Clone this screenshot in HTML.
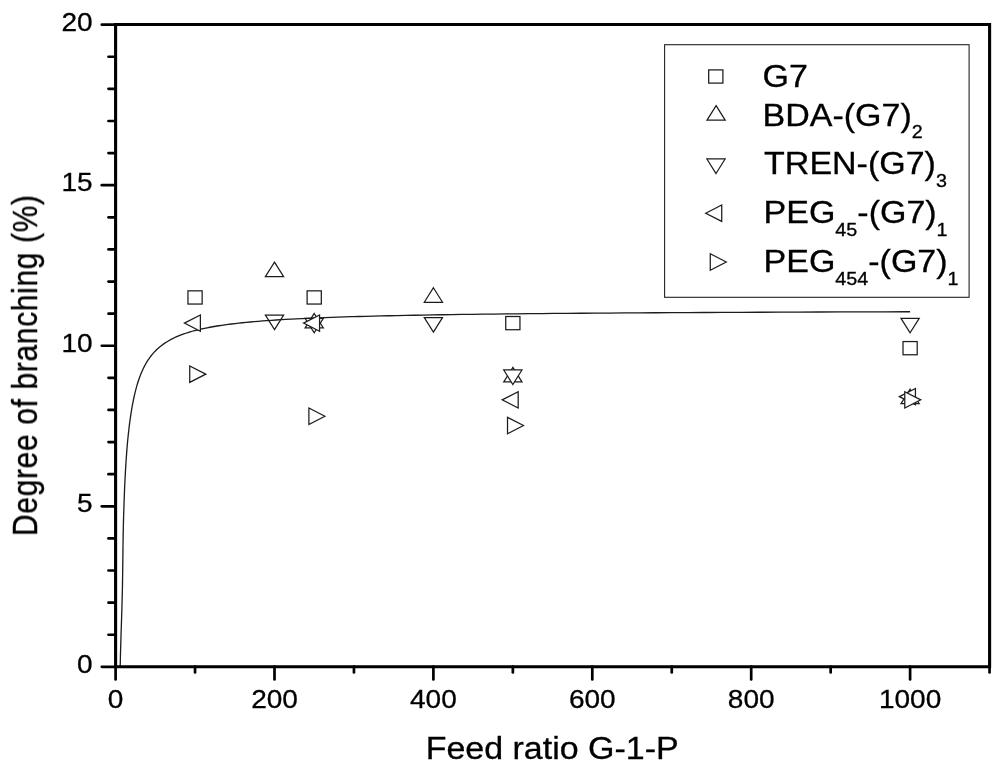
<!DOCTYPE html>
<html lang="en"><head><meta charset="utf-8"><title>Degree of branching vs feed ratio G-1-P</title>
<style>html,body{margin:0;padding:0;background:#fff}body{width:1000px;height:768px;overflow:hidden}svg{display:block}text{font-family:"Liberation Sans",Arial,Helvetica,sans-serif;fill:#000;stroke:#000;stroke-width:0.3px}</style></head><body>
<svg width="1000" height="768" viewBox="0 0 1000 768">
<defs><filter id="soft" x="0" y="0" width="1000" height="768" filterUnits="userSpaceOnUse"><feGaussianBlur stdDeviation="0.35"/></filter></defs>
<rect width="1000" height="768" fill="#fff"/>
<g filter="url(#soft)">
<g fill="#fff" stroke="#1c1c1c" stroke-width="1.25" stroke-linejoin="miter">
<rect x="187.95" y="290.84" width="14.20" height="13.20"/>
<rect x="307.12" y="290.84" width="14.20" height="13.20"/>
<rect x="505.75" y="316.52" width="14.20" height="13.20"/>
<rect x="903.00" y="341.57" width="14.20" height="13.20"/>
<path d="M274.50 262.08L283.60 276.58L265.40 276.58Z"/>
<path d="M314.23 313.46L323.33 327.96L305.12 327.96Z"/>
<path d="M433.40 287.77L442.50 302.27L424.30 302.27Z"/>
<path d="M512.85 367.40L521.95 381.90L503.75 381.90Z"/>
<path d="M910.10 389.24L919.20 403.74L901.00 403.74Z"/>
<path d="M274.50 329.58L283.60 315.08L265.40 315.08Z"/>
<path d="M314.23 332.79L323.33 318.29L305.12 318.29Z"/>
<path d="M433.40 332.15L442.50 317.65L424.30 317.65Z"/>
<path d="M512.85 384.49L521.95 369.99L503.75 369.99Z"/>
<path d="M910.10 332.79L919.20 318.29L901.00 318.29Z"/>
<polyline points="120.18,666.70 120.38,657.80 120.62,649.08 120.87,640.55 121.13,632.20 121.40,624.03 121.66,616.03 121.90,608.21 122.12,600.56 122.30,593.08 122.46,585.77 122.58,578.62 122.69,571.64 122.77,564.81 122.85,558.15 122.93,551.63 123.01,545.27 123.11,539.06 123.21,533.00 123.34,527.08 123.48,521.30 123.64,515.66 123.81,510.16 123.99,504.79 124.17,499.55 124.35,494.44 124.56,489.46 124.77,484.60 125.00,479.87 125.23,475.25 125.48,470.75 125.74,466.36 126.01,462.08 126.29,457.92 126.58,453.85 126.88,449.90 127.19,446.04 127.52,442.29 127.87,438.63 128.24,435.07 128.62,431.60 129.01,428.22 129.41,424.94 129.82,421.73 130.25,418.62 130.69,415.58 131.14,412.63 131.61,409.75 132.09,406.95 132.58,404.23 133.09,401.58 133.62,399.00 134.16,396.49 134.71,394.05 135.29,391.68 135.88,389.37 136.49,387.12 137.11,384.93 137.76,382.81 138.42,380.74 139.11,378.73 139.81,376.77 140.54,374.87 141.29,373.02 142.06,371.22 142.85,369.47 143.67,367.77 144.51,366.12 145.38,364.51 146.27,362.95 147.19,361.43 148.14,359.95 149.12,358.52 150.12,357.12 151.16,355.77 152.23,354.45 153.32,353.17 154.46,351.92 155.62,350.71 156.82,349.53 158.06,348.39 159.33,347.28 160.65,346.20 162.00,345.15 163.39,344.13 164.82,343.14 166.30,342.18 167.82,341.24 169.39,340.34 171.00,339.45 172.66,338.60 174.37,337.76 176.14,336.95 177.95,336.17 179.82,335.40 181.75,334.66 183.74,333.94 185.78,333.24 187.88,332.56 190.05,331.90 192.29,331.25 194.59,330.63 196.96,330.02 199.40,329.44 201.91,328.86 204.50,328.31 207.17,327.77 209.92,327.25 212.74,326.74 215.66,326.24 218.66,325.76 221.75,325.30 224.94,324.84 228.22,324.40 231.60,323.98 235.08,323.56 238.66,323.16 242.35,322.77 246.15,322.39 250.07,322.02 254.11,321.66 258.26,321.31 262.54,320.97 266.95,320.65 271.49,320.33 276.17,320.02 280.98,319.72 285.94,319.42 291.05,319.14 296.32,318.86 301.74,318.60 307.32,318.34 313.08,318.09 319.00,317.84 325.10,317.60 331.39,317.37 337.86,317.15 344.53,316.93 351.40,316.72 358.47,316.51 365.76,316.31 373.26,316.12 380.99,315.93 388.95,315.75 397.15,315.57 405.60,315.40 414.30,315.23 423.26,315.07 432.49,314.91 442.00,314.76 451.79,314.61 461.87,314.47 472.26,314.33 482.96,314.19 493.98,314.06 505.33,313.93 517.03,313.81 529.07,313.69 541.47,313.57 554.25,313.45 567.41,313.34 580.96,313.24 594.92,313.13 609.30,313.03 624.11,312.93 639.37,312.84 655.08,312.74 671.27,312.65 687.94,312.57 705.11,312.48 722.79,312.40 741.01,312.32 759.77,312.24 779.10,312.17 799.00,312.09 819.50,312.02 840.62,311.95 862.37,311.89 884.77,311.82 907.85,311.76 910.10,311.75" fill="none" stroke="#1a1a1a" stroke-width="1.3" stroke-linejoin="round"/>
<path d="M184.38 323.12L200.38 314.92L200.38 331.32Z"/>
<path d="M303.56 323.12L319.56 314.92L319.56 331.32Z"/>
<path d="M502.18 399.87L518.18 391.67L518.18 408.07Z"/>
<path d="M899.43 396.65L915.43 388.45L915.43 404.85Z"/>
<path d="M205.72 374.18L189.72 365.98L189.72 382.38Z"/>
<path d="M324.89 416.24L308.89 408.04L308.89 424.44Z"/>
<path d="M523.52 425.55L507.52 417.35L507.52 433.75Z"/>
<path d="M920.77 399.87L904.77 391.67L904.77 408.07Z"/>
</g>
<g stroke="#000" stroke-width="3.1" fill="none" stroke-linecap="butt">
<path d="M115.60 24.50H989.60V666.70H115.60Z" stroke-linejoin="miter"/>
<path stroke-linecap="round" stroke-width="2.7" d="M101.80 666.85H115.60"/>
<path stroke-linecap="round" stroke-width="2.7" d="M108.50 634.74H115.60"/>
<path stroke-linecap="round" stroke-width="2.7" d="M108.50 602.63H115.60"/>
<path stroke-linecap="round" stroke-width="2.7" d="M108.50 570.52H115.60"/>
<path stroke-linecap="round" stroke-width="2.7" d="M108.50 538.41H115.60"/>
<path stroke-linecap="round" stroke-width="2.7" d="M101.80 506.30H115.60"/>
<path stroke-linecap="round" stroke-width="2.7" d="M108.50 474.19H115.60"/>
<path stroke-linecap="round" stroke-width="2.7" d="M108.50 442.08H115.60"/>
<path stroke-linecap="round" stroke-width="2.7" d="M108.50 409.97H115.60"/>
<path stroke-linecap="round" stroke-width="2.7" d="M108.50 377.86H115.60"/>
<path stroke-linecap="round" stroke-width="2.7" d="M101.80 345.75H115.60"/>
<path stroke-linecap="round" stroke-width="2.7" d="M108.50 313.64H115.60"/>
<path stroke-linecap="round" stroke-width="2.7" d="M108.50 281.53H115.60"/>
<path stroke-linecap="round" stroke-width="2.7" d="M108.50 249.42H115.60"/>
<path stroke-linecap="round" stroke-width="2.7" d="M108.50 217.31H115.60"/>
<path stroke-linecap="round" stroke-width="2.7" d="M101.80 185.20H115.60"/>
<path stroke-linecap="round" stroke-width="2.7" d="M108.50 153.09H115.60"/>
<path stroke-linecap="round" stroke-width="2.7" d="M108.50 120.98H115.60"/>
<path stroke-linecap="round" stroke-width="2.7" d="M108.50 88.87H115.60"/>
<path stroke-linecap="round" stroke-width="2.7" d="M108.50 56.76H115.60"/>
<path stroke-linecap="round" stroke-width="2.7" d="M101.80 24.65H115.60"/>
<path stroke-linecap="round" stroke-width="2.7" d="M115.60 666.70V679.40"/>
<path stroke-linecap="round" stroke-width="2.7" d="M195.05 666.70V672.40"/>
<path stroke-linecap="round" stroke-width="2.7" d="M274.50 666.70V679.40"/>
<path stroke-linecap="round" stroke-width="2.7" d="M353.95 666.70V672.40"/>
<path stroke-linecap="round" stroke-width="2.7" d="M433.40 666.70V679.40"/>
<path stroke-linecap="round" stroke-width="2.7" d="M512.85 666.70V672.40"/>
<path stroke-linecap="round" stroke-width="2.7" d="M592.30 666.70V679.40"/>
<path stroke-linecap="round" stroke-width="2.7" d="M671.75 666.70V672.40"/>
<path stroke-linecap="round" stroke-width="2.7" d="M751.20 666.70V679.40"/>
<path stroke-linecap="round" stroke-width="2.7" d="M830.65 666.70V672.40"/>
<path stroke-linecap="round" stroke-width="2.7" d="M910.10 666.70V679.40"/>
<path stroke-linecap="round" stroke-width="2.7" d="M989.55 666.70V672.40"/>
</g>
<text transform="translate(92.70 672.90) scale(1.065 1)" font-size="26.3" text-anchor="end">0</text>
<text transform="translate(92.70 512.35) scale(1.065 1)" font-size="26.3" text-anchor="end">5</text>
<text transform="translate(92.70 351.80) scale(1.065 1)" font-size="26.3" text-anchor="end">10</text>
<text transform="translate(92.70 191.25) scale(1.065 1)" font-size="26.3" text-anchor="end">15</text>
<text transform="translate(92.70 30.70) scale(1.065 1)" font-size="26.3" text-anchor="end">20</text>
<text transform="translate(115.60 708.30) scale(1.065 1)" font-size="26.3" text-anchor="middle">0</text>
<text transform="translate(274.50 708.30) scale(1.065 1)" font-size="26.3" text-anchor="middle">200</text>
<text transform="translate(433.40 708.30) scale(1.065 1)" font-size="26.3" text-anchor="middle">400</text>
<text transform="translate(592.30 708.30) scale(1.065 1)" font-size="26.3" text-anchor="middle">600</text>
<text transform="translate(751.20 708.30) scale(1.065 1)" font-size="26.3" text-anchor="middle">800</text>
<text transform="translate(910.10 708.30) scale(1.065 1)" font-size="26.3" text-anchor="middle">1000</text>
<text transform="translate(552.20 758.50) scale(1.097 1)" font-size="31" text-anchor="middle">Feed ratio G-1-P</text>
<text transform="translate(37.4 365.5) scale(1.18 1) rotate(-90)" font-size="30" text-anchor="middle" textLength="341" lengthAdjust="spacing">Degree of branching (%)</text>
<rect x="664.6" y="44.7" width="304.5" height="252.6" fill="#fff" stroke="#222" stroke-width="1.1"/>
<g fill="#fff" stroke="#1c1c1c" stroke-width="1.25">
<rect x="708.70" y="69.90" width="14.20" height="13.20"/>
<path d="M716.10 105.63L725.20 120.13L707.00 120.13Z"/>
<path d="M716.00 173.47L725.10 158.97L706.90 158.97Z"/>
<path d="M705.73 213.20L721.73 205.00L721.73 221.40Z"/>
<path d="M726.27 262.00L710.27 253.80L710.27 270.20Z"/>
</g>
<text transform="translate(762.60 87.00) scale(1.097 1)"><tspan font-size="31">G7</tspan></text>
<text transform="translate(762.60 125.50) scale(1.097 1)"><tspan font-size="31">BDA-(G7)</tspan><tspan font-size="18" dy="12.6">2</tspan></text>
<text transform="translate(764.10 174.20) scale(1.097 1)"><tspan font-size="31">TREN-(G7)</tspan><tspan font-size="18" dy="12.6">3</tspan></text>
<text transform="translate(763.60 223.20) scale(1.097 1)"><tspan font-size="31">PEG</tspan><tspan font-size="18" dy="12.6">45</tspan><tspan font-size="31" dy="-12.6">-(G7)</tspan><tspan font-size="18" dy="12.6">1</tspan></text>
<text transform="translate(763.60 272.30) scale(1.097 1)"><tspan font-size="31">PEG</tspan><tspan font-size="18" dy="12.6">454</tspan><tspan font-size="31" dy="-12.6">-(G7)</tspan><tspan font-size="18" dy="12.6">1</tspan></text>
</g>
</svg></body></html>
